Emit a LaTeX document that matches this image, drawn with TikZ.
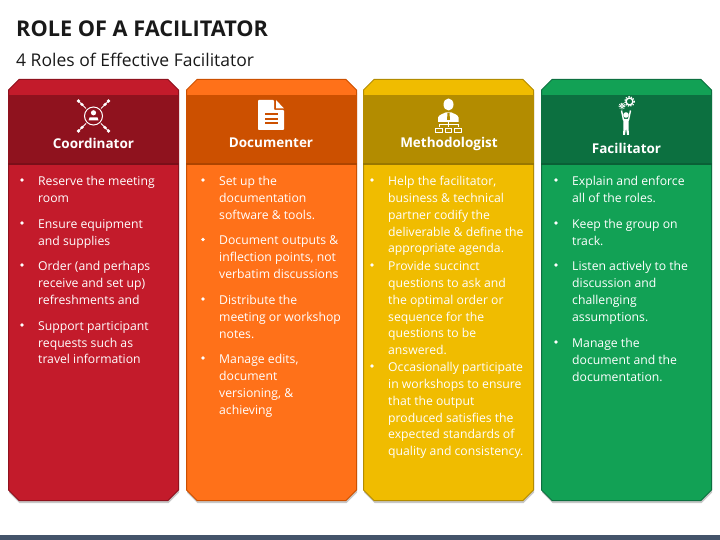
\documentclass[tikz,border=0pt]{standalone}
\usepackage{fontspec}
\setmainfont{Open Sans}
\definecolor{cardred}{HTML}{C31B2B}
\definecolor{headred}{HTML}{8F121E}
\definecolor{cardorange}{HTML}{FF7119}
\definecolor{headorange}{HTML}{CC5000}
\definecolor{cardyellow}{HTML}{F0BC00}
\definecolor{headyellow}{HTML}{B38C00}
\definecolor{cardgreen}{HTML}{12A155}
\definecolor{headgreen}{HTML}{0C7040}
\definecolor{footbar}{HTML}{44546A}
\newcommand{\cardshape}[1]{(#1+0.5,90) -- (#1+11,79.5) -- (#1+160,79.5) -- (#1+170.5,90) -- (#1+170.5,490) -- (#1+160,500.5) -- (#1+11,500.5) -- (#1+0.5,490) -- cycle}
\newcommand{\bulletitem}[4]{%
  \fill[white] (#1-16,#2+7.5) circle (1.9);
  \node[item] (#3) at (#1,#2+3.5) {#4};}
\begin{document}
\begin{tikzpicture}[x=1pt,y=-1pt,
  item/.style={anchor=north west,inner sep=0pt,align=left,text=white,
    font=\fontsize{12.2}{16.85}\selectfont},
  headtext/.style={inner sep=0pt,text=white,font=\fontsize{13.5}{16}\selectfont\bfseries},
  iconline/.style={draw=white,line width=1pt}]
  \useasboundingbox (0,0) rectangle (720,540);
  \fill[footbar] (0,535) rectangle (720,540);
  \node[anchor=west,inner sep=0pt,font=\fontsize{21.7}{26}\selectfont\bfseries,text=black!90] (title) at (16,29) {ROLE OF A FACILITATOR};
  \node[anchor=west,inner sep=0pt,font=\fontsize{17.5}{20}\selectfont,text=black!90] (subtitle) at (16,60) {4 Roles of Effective Facilitator};
  % the four cards
  \foreach \cx/\cname in {8/red,186/orange,363/yellow,541/green} {
    \fill[black!22] [shift={(0.5,2.5)}] \cardshape{\cx};
    \draw[fill=card\cname,draw=head\cname,line width=1pt] \cardshape{\cx};
    \fill[head\cname] (\cx,95) rectangle (\cx+171,163);
    \fill[head\cname!85!black] (\cx,163) rectangle (\cx+171,165);
  }
  \node[headtext] (coordinator) at (93.5,143.5) {Coordinator};
  \node[headtext] (documenter) at (271,143) {Documenter};
  \node[headtext] (methodologist) at (449,143.5) {Methodologist};
  \node[headtext] (facilitator) at (626.5,148) {Facilitator};
  % coordinator icon
  \draw[iconline] (93.5,116) circle (9);
  \fill[white] (93.5,112.8) circle (2.6);
  \fill[white] (88.5,120.5) -- (89.5,117.5) -- (97.5,117.5) -- (98.5,120.5) -- cycle;
  \foreach \dx/\dy in {1/1,1/-1,-1/1,-1/-1} {
    \draw[white,line width=0.8pt] (93.5+7.5*\dx,116+7.5*\dy) -- (93.5+15*\dx,116+15*\dy);
    \draw[white,line width=2.2pt] (93.5+10.5*\dx,116+10.5*\dy) -- (93.5+12.5*\dx,116+12.5*\dy);
    \fill[white] (93.5+15*\dx,116+15*\dy) circle (1.9);
  }
  % documenter icon
  \fill[white,rounded corners=0.8pt] (258,100) -- (274,100) -- (274,110) -- (284,110) -- (284,130) -- (258,130) -- cycle;
  \fill[white] (276,100) -- (284,108.5) -- (276,108.5) -- cycle;
  \foreach \ly in {114.5,119,123.5}
    \fill[headorange] (264.5,\ly-1) rectangle (278,\ly+1);
  % methodologist icon
  \fill[white] (448.5,104.5) ellipse (5 and 6);
  \fill[white] (438,122) -- (438,117.5) .. controls (439,114.5) and (443,114) .. (445.5,112.5) -- (451.5,112.5) .. controls (454,114) and (458,114.5) .. (458.5,117.5) -- (458.5,122) -- cycle;
  \fill[headyellow] (447.5,113) -- (449.5,113) -- (450,120) -- (447,120) -- cycle;
  \draw[white,line width=0.9pt] (439,124) -- (458,124) (439,124) -- (439,127.5) (448.5,122) -- (448.5,127.5) (458,124) -- (458,127.5);
  \foreach \bx in {435.5,445,454.5}
    \draw[white,line width=0.8pt] (\bx,128) rectangle (\bx+6.5,132);
  % facilitator icon
  \fill[white] (626,115) circle (2.8);
  \draw[white,line width=1.4pt,line join=round] (621.5,110.5) -- (623.5,120) -- (628.5,120) -- (630.5,110.5);
  \fill[white] (623.2,119) -- (628.8,119) -- (628.5,127) -- (629,135) -- (627,135) -- (626,128) -- (625,135) -- (623,135) -- (623.5,127) -- cycle;
  \draw[white,line width=1.3pt] (629.5,101.5) circle (3.4);
  \draw[white,line width=1.3pt,dash pattern=on 1.3pt off 1.3pt] (629.5,101.5) circle (4.8);
  \draw[white,line width=1.1pt] (622,106) circle (1.7);
  \draw[white,line width=0.9pt,dash pattern=on 1pt off 1pt] (622,106) circle (2.9);
  % coordinator text
  \bulletitem{38}{172.5}{coordA}{Reserve the meeting\\room}
  \bulletitem{38}{215.5}{coordB}{Ensure equipment\\and supplies}
  \bulletitem{38}{257.5}{coordC}{Order (and perhaps\\receive and set up)\\refreshments and}
  \bulletitem{38}{317.5}{coordD}{Support participant\\requests such as\\travel information}
  % documenter text
  \bulletitem{219}{172.5}{docA}{Set up the\\documentation\\software \& tools.}
  \bulletitem{219}{232}{docB}{Document outputs \&\\inflection points, not\\verbatim discussions}
  \bulletitem{219}{291.5}{docC}{Distribute the\\meeting or workshop\\notes.}
  \bulletitem{219}{350.5}{docD}{Manage edits,\\document\\versioning, \&\\achieving}
  % methodologist text
  \bulletitem{388}{172.5}{methA}{Help the facilitator,\\business \& technical\\partner codify the\\deliverable \& define the\\appropriate agenda.}
  \bulletitem{388}{257.5}{methB}{Provide succinct\\questions to ask and\\the optimal order or\\sequence for the\\questions to be\\answered.}
  \bulletitem{388}{358.5}{methC}{Occasionally participate\\in workshops to ensure\\that the output\\produced satisfies the\\expected standards of\\quality and consistency.}
  % facilitator text
  \bulletitem{572}{172.5}{facA}{Explain and enforce\\all of the roles.}
  \bulletitem{572}{215.5}{facB}{Keep the group on\\track.}
  \bulletitem{572}{257.5}{facC}{Listen actively to the\\discussion and\\challenging\\assumptions.}
  \bulletitem{572}{334.5}{facD}{Manage the\\document and the\\documentation.}
\end{tikzpicture}
\end{document}
